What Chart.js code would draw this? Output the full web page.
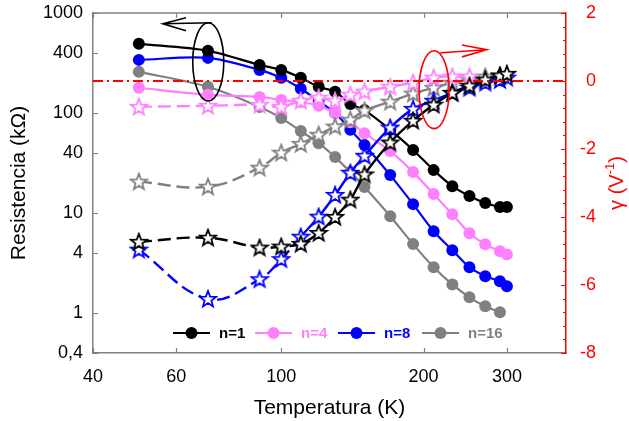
<!DOCTYPE html>
<html>
<head>
<meta charset="utf-8">
<script src="https://cdn.jsdelivr.net/npm/chart.js@4.4.0/dist/chart.umd.min.js"></script>
<style>
html, body { margin: 0; padding: 0; background: #fff; }
</style>
</head>
<body>
<canvas id="graphique" width="629" height="421"></canvas>
<script>
// Temperaturas (K)
const temperaturas = [50, 70, 90, 100, 110, 120, 130, 140, 150, 170, 190, 210, 230, 250, 270, 290, 300]
// Resistencia (kOhm) - circulos, eje izquierdo
const resistN1 = [492, 419, 303, 270, 225, 183, 163, 123, 107, 68, 42.8, 26.9, 18.6, 14.8, 12.6, 11.5, 11.5]
const resistN4 = [179, 152, 145, 135, 129, 118, 100, 81, 63, 41.7, 25.7, 15.5, 9.75, 6.3, 4.88, 4.15, 3.87]
const resistN8 = [340, 356, 270, 225, 175, 132, 100, 68, 48, 24, 12.3, 6.6, 4.26, 2.88, 2.34, 2.09, 1.86]
const resistN16 = [258, 183, 115, 89, 66, 50, 36.3, 25.7, 18.2, 9.3, 4.9, 2.88, 1.94, 1.44, 1.17, 1.02, null]
// gamma (1/V) - estrellas, eje derecho
const gammaN1 = [-4.73, -4.61, -4.90, -4.87, -4.79, -4.47, -4.00, -3.49, -2.75, -1.81, -1.17, -0.70, -0.35, -0.14, 0.04, 0.16, 0.21]
const gammaN4 = [-0.76, -0.73, -0.70, -0.76, -0.58, -0.49, -0.58, -0.40, -0.31, -0.17, -0.05, 0.10, 0.13, 0.13, null, null, null]
const gammaN8 = [-4.96, -6.41, -5.83, -5.24, -4.58, -3.99, -3.35, -2.70, -2.20, -1.37, -0.82, -0.58, -0.35, -0.20, -0.05, 0.03, 0.10]
const gammaN16 = [-2.96, -3.11, -2.55, -2.11, -1.85, -1.58, -1.34, -1.14, -0.87, -0.61, -0.37, -0.20, -0.05, 0.04, 0.13, 0.16, null]

const etiquetas = ["n=1", "n=4", "n=8", "n=16"]
const couleurs = ["#000000", "#ff80ff", "#0000ff", "#808080"]
// fin de la parte discontinua de cada curva gamma (K)
const finTrazos = [110, 100, 110, 100]

const ticksX = [40, 60, 100, 200, 300]
const ticksY = [0.4, 1, 4, 10, 40, 100, 400, 1000]
const ticksY1 = [-8, -6, -4, -2, 0, 2]

// elipses y flechas (en unidades de datos)
const elipseNegra = { tMin: 65, tMax: 75.6, vMin: 132, vMax: 800 }
const flechaNegra = { t0: 71.3, v0: 800, t1: 56.2, v1: 780, tAla: 62.9, vAla1: 897, vAla2: 665 }
const elipseRoja = { tMin: 195.6, tMax: 226.5, vMin: -1.40, vMax: 0.89 }
const flechaRoja = { t0: 217, v0: 0.83, t1: 272, v1: 0.92, tAla: 241, vAla1: 1.06, vAla2: 0.71 }

const fuente = 'Arial, "Liberation Sans", sans-serif'
Chart.defaults.font.family = fuente
Chart.defaults.color = '#000'

function estrella(color) {
    const c = document.createElement('canvas')
    c.width = 20; c.height = 20
    const g = c.getContext('2d')
    g.beginPath()
    for (let i = 0; i < 10; i++) {
        const r = i % 2 === 0 ? 8.5 : 3.6
        const a = -Math.PI / 2 + i * Math.PI / 5
        const px = 10 + r * Math.cos(a), py = 10.5 + r * Math.sin(a)
        if (i === 0) g.moveTo(px, py); else g.lineTo(px, py)
    }
    g.closePath()
    g.fillStyle = '#fff'
    g.fill()
    g.lineWidth = 1.8
    g.strokeStyle = color
    g.stroke()
    return c
}

function puntos(valores) {
    return temperaturas.map((t, i) => ({ x: t, y: valores[i] }))
}

const resistencias = [resistN1, resistN4, resistN8, resistN16]
const gammas = [gammaN1, gammaN4, gammaN8, gammaN16]

const datasets = []
datasets.push({
    label: 'cero',
    data: [{ x: 40, y: 0 }, { x: 400, y: 0 }],
    yAxisID: 'y1',
    borderColor: '#ff0000',
    borderWidth: 2,
    borderDash: [10, 4, 2, 4],
    pointRadius: 0
})
for (let i = 0; i < 4; i++) {
    datasets.push({
        label: etiquetas[i] + ' gamma',
        data: puntos(gammas[i]),
        yAxisID: 'y1',
        borderColor: couleurs[i],
        borderWidth: 2.4,
        tension: 0.4,
        pointStyle: estrella(couleurs[i]),
        segment: {
            borderDash: ctx => ctx.p1.parsed.x <= finTrazos[i] ? [13, 6] : undefined
        }
    })
}
for (let i = 0; i < 4; i++) {
    datasets.push({
        label: etiquetas[i],
        data: puntos(resistencias[i]),
        yAxisID: 'y',
        borderColor: couleurs[i],
        backgroundColor: couleurs[i],
        borderWidth: 2.2,
        tension: 0.3,
        pointRadius: 6,
        pointBorderWidth: 0
    })
}

const dibujosExtra = {
    id: 'dibujosExtra',
    afterDraw(chart) {
        const { ctx, chartArea: a, scales } = chart
        const sx = scales.x, sy = scales.y, sy1 = scales.y1
        ctx.save()
        // borde superior y ticks internos
        ctx.strokeStyle = '#808080'
        ctx.lineWidth = 1.5
        ctx.beginPath()
        ctx.moveTo(a.left, a.top); ctx.lineTo(a.right, a.top)
        ctx.stroke()
        ctx.lineWidth = 1.2
        ctx.beginPath()
        for (const t of ticksX) {
            const px = Math.round(sx.getPixelForValue(t)) + 0.5
            ctx.moveTo(px, a.bottom); ctx.lineTo(px, a.bottom - 5)
            ctx.moveTo(px, a.top); ctx.lineTo(px, a.top + 5)
        }
        for (const t of ticksY) {
            const py = Math.round(sy.getPixelForValue(t)) + 0.5
            ctx.moveTo(a.left, py); ctx.lineTo(a.left + 5, py)
        }
        ctx.stroke()
        ctx.strokeStyle = '#ff0000'
        ctx.beginPath()
        for (let k = 0; k <= 25; k++) {
            const v = -8 + k * 0.4
            const py = Math.round(sy1.getPixelForValue(v)) + 0.5
            const l = k % 5 === 0 ? 5 : 3
            ctx.moveTo(a.right, py); ctx.lineTo(a.right - l, py)
        }
        ctx.stroke()

        // elipses y flechas
        function elipse(e, escalaY, color) {
            const x0 = sx.getPixelForValue(e.tMin), x1 = sx.getPixelForValue(e.tMax)
            const y0 = escalaY.getPixelForValue(e.vMax), y1 = escalaY.getPixelForValue(e.vMin)
            ctx.strokeStyle = color
            ctx.lineWidth = 1.6
            ctx.beginPath()
            ctx.ellipse((x0 + x1) / 2, (y0 + y1) / 2, (x1 - x0) / 2, (y1 - y0) / 2, 0, 0, 2 * Math.PI)
            ctx.stroke()
        }
        function flecha(f, escalaY, color) {
            const p0 = [sx.getPixelForValue(f.t0), escalaY.getPixelForValue(f.v0)]
            const p1 = [sx.getPixelForValue(f.t1), escalaY.getPixelForValue(f.v1)]
            const xa = sx.getPixelForValue(f.tAla)
            ctx.strokeStyle = color
            ctx.lineWidth = 1.6
            ctx.beginPath()
            ctx.moveTo(p0[0], p0[1]); ctx.lineTo(p1[0], p1[1])
            ctx.moveTo(xa, escalaY.getPixelForValue(f.vAla1)); ctx.lineTo(p1[0], p1[1])
            ctx.lineTo(xa, escalaY.getPixelForValue(f.vAla2))
            ctx.stroke()
        }
        elipse(elipseNegra, sy, '#000')
        flecha(flechaNegra, sy, '#000')
        elipse(elipseRoja, sy1, '#ff0000')
        flecha(flechaRoja, sy1, '#ff0000')

        // leyenda
        const yLeg = a.bottom - 20
        const xLeg = [173, 255, 338, 422]
        ctx.font = 'bold 15px ' + fuente
        ctx.textBaseline = 'middle'
        for (let i = 0; i < 4; i++) {
            ctx.strokeStyle = couleurs[i]
            ctx.fillStyle = couleurs[i]
            ctx.lineWidth = 2
            ctx.beginPath()
            ctx.moveTo(xLeg[i], yLeg); ctx.lineTo(xLeg[i] + 37, yLeg)
            ctx.stroke()
            ctx.beginPath()
            ctx.arc(xLeg[i] + 18.5, yLeg, 6, 0, 2 * Math.PI)
            ctx.fill()
            ctx.fillText(etiquetas[i], xLeg[i] + 46, yLeg + 1)
        }

        // titulo eje derecho
        ctx.translate(a.right + 51, (a.top + a.bottom) / 2)
        ctx.rotate(-Math.PI / 2)
        ctx.fillStyle = '#ff0000'
        ctx.textBaseline = 'middle'
        const t1 = 'γ (V', t2 = '-1', t3 = ')'
        ctx.font = '20px ' + fuente
        const w1 = ctx.measureText(t1).width, w3 = ctx.measureText(t3).width
        ctx.font = '13px ' + fuente
        const w2 = ctx.measureText(t2).width
        const x = -(w1 + w2 + w3) / 2
        ctx.font = '20px ' + fuente
        ctx.fillText(t1, x, 0)
        ctx.font = '13px ' + fuente
        ctx.fillText(t2, x + w1, -7)
        ctx.font = '20px ' + fuente
        ctx.fillText(t3, x + w1 + w2, 0)
        ctx.restore()
    }
}

function sinDesborde(s, ancho) {
    s.width = ancho
    s.paddingTop = 0
    s.paddingBottom = 0
}

const graphique = new Chart(document.querySelector('#graphique'), {
    type: 'line',
    data: { datasets: datasets },
    options: {
        responsive: false,
        animation: false,
        devicePixelRatio: 1,
        layout: { padding: { top: 13, left: 0, right: 33, bottom: 0 } },
        plugins: { legend: { display: false }, tooltip: { enabled: false } },
        scales: {
            x: {
                type: 'logarithmic',
                min: 40,
                max: 400,
                afterBuildTicks: s => { s.ticks = ticksX.map(v => ({ value: v })) },
                afterFit: s => { s.height = 68; s.paddingLeft = 0; s.paddingRight = 0 },
                ticks: { callback: v => String(v), font: { size: 18 }, padding: 13, maxRotation: 0, autoSkip: false },
                grid: { display: true, drawOnChartArea: false, drawTicks: false },
                border: { color: '#808080', width: 1.5 },
                title: { display: true, text: 'Temperatura (K)', font: { size: 21 }, padding: { top: 0, bottom: 0 } }
            },
            y: {
                type: 'logarithmic',
                position: 'left',
                min: 0.4,
                max: 1000,
                afterBuildTicks: s => { s.ticks = ticksY.map(v => ({ value: v })) },
                afterFit: s => sinDesborde(s, 93),
                ticks: { callback: v => String(v).replace('.', ','), font: { size: 18 }, padding: 10, autoSkip: false },
                grid: { display: true, drawOnChartArea: false, drawTicks: false },
                border: { color: '#808080', width: 1.5 },
                title: { display: true, text: 'Resistencia (kΩ)', font: { size: 21 }, padding: { top: 7, bottom: 0 } }
            },
            y1: {
                type: 'linear',
                position: 'right',
                min: -8,
                max: 2,
                afterBuildTicks: s => { s.ticks = ticksY1.map(v => ({ value: v })) },
                afterFit: s => sinDesborde(s, 30),
                ticks: { color: '#ff0000', font: { size: 18 }, padding: 10, crossAlign: 'far', autoSkip: false },
                grid: { display: true, drawOnChartArea: false, drawTicks: false },
                border: { color: '#ff0000', width: 1.5 }
            }
        }
    },
    plugins: [dibujosExtra]
})
</script>
</body>
</html>
